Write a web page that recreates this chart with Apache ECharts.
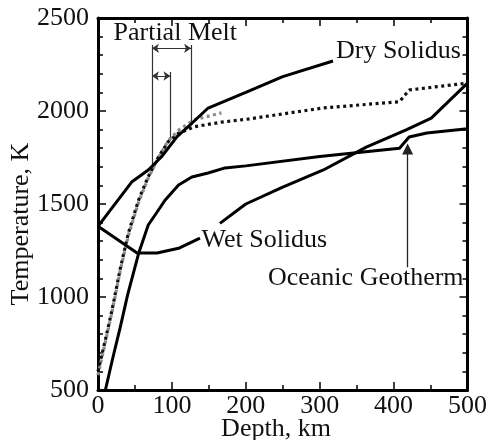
<!DOCTYPE html>
<html>
<head>
<meta charset="utf-8">
<script src="https://cdn.jsdelivr.net/npm/echarts@6/dist/echarts.min.js"></script>
<style>
  html, body { margin: 0; padding: 0; background: #fff; }
  #chart { width: 490px; height: 440px; }
</style>
</head>
<body>
<div id="chart"></div>
<script>
// Axis ranges and tick steps (depth in km, temperature in K)
const depthRange = [0, 500];
const tempRange = [500, 2500];
const depthStep = 100;
const tempStep = 500;

// Curves: [depth km, temperature K]
const drySolidus = [[0,1380],[46,1620],[68,1683],[86,1754],[107,1862],[127,1934],[149,2016],[200,2100],[250,2185],[318,2269]];
const wetSolidusShallow = [[0,1380],[53,1237],[80,1237],[109,1262],[138,1316]];
const wetSolidusDeep = [[165,1396],[200,1500],[250,1591],[305,1683],[363,1806],[417,1898],[451,1962],[500,2150]];
const oceanicGeotherm = [[10,500],[20,672],[30,835],[40,1010],[55,1235],[68,1387],[80,1457],[91,1522],[109,1602],[127,1645],[149,1667],[172,1694],[200,1705],[300,1755],[408,1800],[421,1860],[445,1882],[500,1905]];
const adiabat = [[0,600],[10,770],[19,930],[30,1150],[41,1342],[55,1522],[68,1647],[82,1754],[95,1835],[109,1880],[131,1916],[167,1940],[200,1955],[304,2016],[408,2050],[421,2113],[500,2150]];
const adiabatHot = [[0,580],[19,920],[30,1140],[41,1330],[55,1510],[68,1640],[82,1750],[95,1840],[110,1900],[130,1952],[167,1990]];

// Partial melt interval markers
const meltGuides = [[[73,2355],[73,1700]], [[98,2210],[98,1842]], [[126,2355],[126,1942]]];
const meltSpans = [[[73,2337],[126,2337]], [[73,2188],[98,2188]]];
// Pointer to the geotherm kink
const geothermPointer = [[419,1160],[419,1796]];

// Text annotations anchored in data space
const annotations = [
  { text: 'Partial Melt', at: [21, 2418], align: 'left' },
  { text: 'Dry Solidus', at: [322, 2319], align: 'left' },
  { text: 'Wet Solidus', at: [140, 1306], align: 'left' },
  { text: 'Oceanic Geotherm', at: [230, 1099], align: 'left' }
];

const FONT = "'Liberation Serif', 'Times New Roman', serif";
const FS = 26;
const INK = '#111';

function axis(position, showLabel, extra) {
  return Object.assign({
    type: 'value',
    position: position,
    axisLine: { show: true, onZero: false, lineStyle: { color: '#000', width: 3 } },
    axisTick: { show: true, inside: true, length: 8, lineStyle: { color: '#000', width: 1.5 } },
    minorTick: { show: true, length: 5, lineStyle: { color: '#000', width: 1.5 } },
    axisLabel: { show: showLabel, fontFamily: FONT, fontSize: FS, color: INK, formatter: v => String(v) },
    splitLine: { show: false }
  }, extra);
}

function xAxisDef(position, showLabel) {
  const a = axis(position, showLabel, { min: depthRange[0], max: depthRange[1], interval: depthStep });
  a.minorTick.splitNumber = 2;
  a.axisLabel.margin = 3;
  return a;
}
function yAxisDef(position, showLabel) {
  const a = axis(position, showLabel, { min: tempRange[0], max: tempRange[1], interval: tempStep });
  a.minorTick.splitNumber = 5;
  a.axisLabel.margin = 9;
  return a;
}

function curve(data, color, dashed, width) {
  return {
    type: 'line',
    data: data,
    symbol: 'none',
    smooth: false,
    silent: true,
    lineStyle: { color: color, width: width || 3, type: dashed ? [3, 3.5] : 'solid', cap: 'butt' }
  };
}

const chart = echarts.init(document.getElementById('chart'), null, { renderer: 'canvas' });

chart.setOption({
  animation: false,
  backgroundColor: '#fff',
  grid: { left: 98, right: 22, top: 18, bottom: 50, containLabel: false },
  xAxis: [xAxisDef('bottom', true), xAxisDef('top', false)],
  yAxis: [yAxisDef('left', true), yAxisDef('right', false)],
  series: [
    curve(adiabatHot, '#8a8a8a', true, 3.2),
    curve(adiabat, '#111', true, 3.2),
    curve(drySolidus, '#000', false, 3),
    curve(wetSolidusShallow, '#000', false, 3),
    curve(wetSolidusDeep, '#000', false, 3),
    curve(oceanicGeotherm, '#000', false, 3),
    {
      type: 'lines',
      coordinateSystem: 'cartesian2d',
      silent: true,
      symbol: 'none',
      lineStyle: { color: '#333', width: 1.2, opacity: 1 },
      data: meltGuides.map(c => ({ coords: c }))
    },
    {
      type: 'lines',
      coordinateSystem: 'cartesian2d',
      silent: true,
      symbol: ['arrow', 'arrow'],
      symbolSize: 7,
      lineStyle: { color: '#333', width: 1.2, opacity: 1 },
      data: meltSpans.map(c => ({ coords: c }))
    },
    {
      type: 'lines',
      coordinateSystem: 'cartesian2d',
      silent: true,
      symbol: ['none', 'triangle'],
      symbolSize: 11,
      lineStyle: { color: '#222', width: 1.3, opacity: 1 },
      data: [{ coords: geothermPointer }]
    }
  ]
});

// Place annotation texts and axis titles
const graphics = annotations.map(a => {
  const p = chart.convertToPixel({ gridIndex: 0 }, a.at);
  return {
    type: 'text', x: p[0], y: p[1], silent: true,
    style: { text: a.text, fontFamily: FONT, fontSize: FS, fill: INK, align: a.align, verticalAlign: 'middle' }
  };
});
graphics.push({
  type: 'text', x: 276, y: 429, silent: true,
  style: { text: 'Depth, km', fontFamily: FONT, fontSize: FS, fill: INK, align: 'center', verticalAlign: 'middle' }
});
graphics.push({
  type: 'text', x: 21, y: 224, rotation: Math.PI / 2, silent: true,
  style: { text: 'Temperature, K', fontFamily: FONT, fontSize: FS, fill: INK, align: 'center', verticalAlign: 'middle' }
});
chart.setOption({ graphic: graphics });
</script>
</body>
</html>
